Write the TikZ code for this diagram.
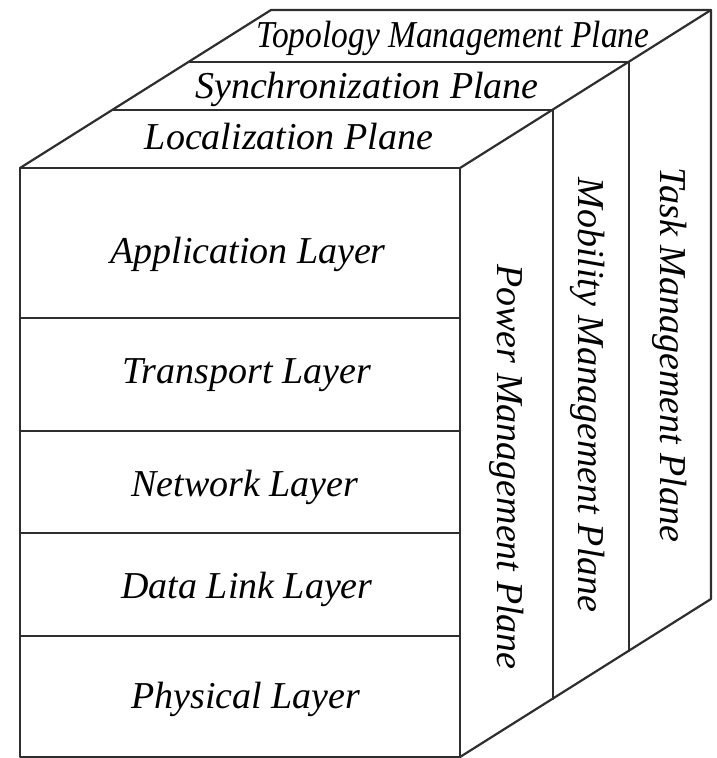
\documentclass[tikz,border=0pt]{standalone}
\usepackage{fontspec}
\setmainfont{Liberation Serif}
\begin{document}
\begin{tikzpicture}[x=1pt,y=-1pt,
  edge/.style={draw=black!82, line width=2.2pt, line join=round, line cap=round},
  lbl/.style={font=\fontsize{38}{40}\selectfont\itshape, inner sep=0pt, text=black},
  sidelbl/.style={lbl, rotate=-90, anchor=base}]
\useasboundingbox (0,0) rectangle (716,758);

% front face of the stack
\coordinate (A0) at (20,168);  \coordinate (B0) at (460,168);
\coordinate (C0) at (460,757); \coordinate (D0) at (20,757);
% edges of the planes stacked behind it
\coordinate (A1) at (113,110); \coordinate (B1) at (553,110); \coordinate (C1) at (553,699);
\coordinate (A2) at (189,62);  \coordinate (B2) at (629,62);  \coordinate (C2) at (629,651);
\coordinate (A3) at (271,10);  \coordinate (B3) at (711,10);  \coordinate (C3) at (711,599);
% layer boundaries on the front face
\coordinate (L1) at (20,318); \coordinate (L2) at (20,431);
\coordinate (L3) at (20,533); \coordinate (L4) at (20,636);

% outline of the block
\draw[edge] (A0) -- (B0) -- (C0) -- (D0) -- cycle;
\draw[edge] (A0) -- (A3) -- (B3) -- (C3) -- (C0);
\draw[edge] (B0) -- (B3);
% plane separators
\draw[edge] (A1) -- (B1) -- (C1);
\draw[edge] (A2) -- (B2) -- (C2);
% layer separators
\foreach \l in {L1,L2,L3,L4} \draw[edge] (\l) -- (\l -| C0);

% protocol layers
\node[lbl, anchor=base] (app)  at (248,263) {Application Layer};
\node[lbl, anchor=base] (tra)  at (247,383) {Transport Layer};
\node[lbl, anchor=base] (net)  at (245,496) {Network Layer};
\node[lbl, anchor=base] (dll)  at (247,598) {Data Link Layer};
\node[lbl, anchor=base] (phy)  at (246,708) {Physical Layer};

% horizontal planes on top
\node[lbl, anchor=base] (loc)  at (289,149) {Localization Plane};
\node[lbl, anchor=base] (syn)  at (367,98) {Synchronization Plane};
\node[lbl, anchor=base, xscale=0.88] (top) at (453,47) {Topology Management Plane};

% vertical planes on the side
\node[sidelbl] (pow) at (497,467) {Power Management Plane};
\node[sidelbl] (mob) at (578,395) {Mobility Management Plane};
\node[sidelbl] (tsk) at (660,355) {Task Management Plane};
\end{tikzpicture}
\end{document}
